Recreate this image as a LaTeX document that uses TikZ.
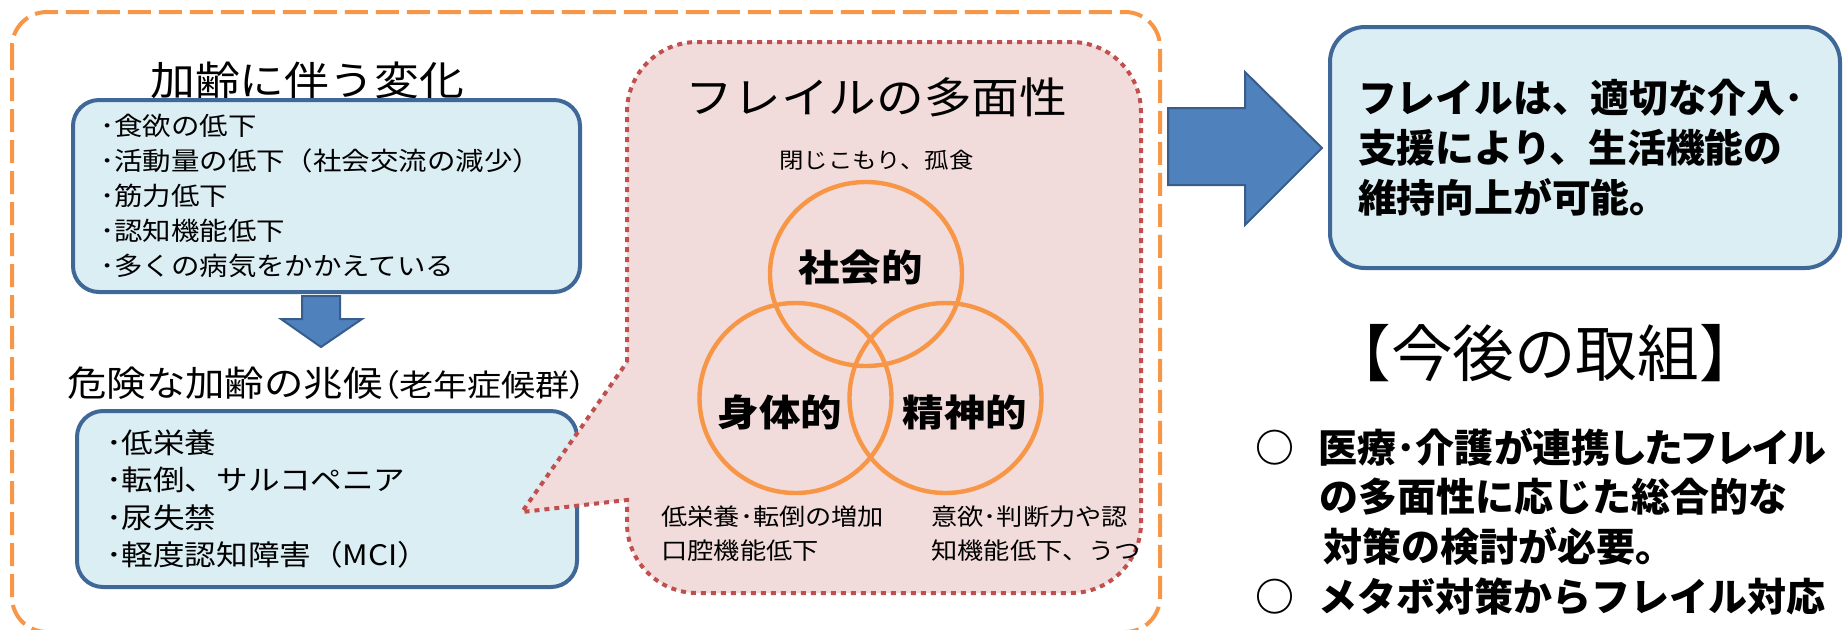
\documentclass[tikz,border=0pt]{standalone}
\usepackage{fontspec}
\setmainfont{Noto Sans CJK JP}[FakeStretch=1.12]
\newfontfamily\rfont{Noto Sans CJK JP}
\newfontfamily\rfontp{Noto Sans CJK JP}[RawFeature=+palt]
\newfontfamily\paltfont{Noto Sans CJK JP}[FakeStretch=1.12,RawFeature=+palt]
\definecolor{orangeline}{HTML}{F79646}
\definecolor{boxline}{HTML}{3F6797}
\definecolor{boxfill}{HTML}{DBEEF4}
\definecolor{pinkfill}{HTML}{F2DCDB}
\definecolor{pinkline}{HTML}{C0504D}
\definecolor{arrowfill}{HTML}{4F81BD}
\definecolor{arrowline}{HTML}{385D8A}
\tikzset{
  outerdash/.style={draw=orangeline, line width=2pt, dash pattern=on 11.5pt off 4pt, rounded corners=17.5pt},
  bluebox/.style={draw=boxline, fill=boxfill, line width=2pt, rounded corners=13pt, align=left, inner ysep=0pt},
  callout/.style={draw=pinkline, fill=pinkfill, line width=2pt, dash pattern=on 2.5pt off 2.5pt},
  ring/.style={draw=orangeline, line width=2.2pt},
  blockarrow/.style={fill=arrowfill, draw=arrowline, line width=1pt, line join=miter},
  plain/.style={inner sep=0pt, text=black}
}
\begin{document}
\begin{tikzpicture}[x=0.5pt,y=-0.5pt]
\useasboundingbox (0,0) rectangle (1843,629);
% outer dashed frame
\draw[outerdash] (12,12) rectangle (1160,632);

% left column
\node[plain, font=\fontsize{20}{24}\selectfont] (t1) at (307,80) {加齢に伴う変化};
\node[bluebox, minimum width=253.5pt, minimum height=96pt, text width=226.5pt, inner xsep=13.5pt,
      font=\fontsize{12.7}{17.6}\selectfont] (box1) at (326.5,196)
  {･食欲の低下\\･活動量の低下（社会交流の減少）\\･筋力低下\\･認知機能低下\\･多くの病気をかかえている};
\draw[blockarrow] (302,296) -- (340,296) -- (340,319) -- (362,319) -- (321,347) -- (281,319) -- (302,319) -- cycle;
\node[plain] (t2) at (327,383) {\fontsize{17.6}{22}\selectfont 危険な加齢の兆候{\paltfont\fontsize{15.2}{20}\selectfont（老年症候群）}};
\node[bluebox, minimum width=250pt, minimum height=88pt, text width=221pt, inner xsep=14.5pt,
      font=\fontsize{14.1}{18.75}\selectfont] (box2) at (327,499)
  {･低栄養\\･転倒、サルコペニア\\･尿失禁\\･軽度認知障害（MCI）};

% callout
\draw[callout] (627,362) -- (627,112) arc[start angle=180, end angle=270, radius=70]
  -- (1071,42) arc[start angle=270, end angle=360, radius=70]
  -- (1141,523) arc[start angle=0, end angle=90, radius=70]
  -- (697,593) arc[start angle=90, end angle=180, radius=70]
  -- (627,500) -- (522,512) -- cycle;
\node[plain, font=\fontsize{21.3}{26}\selectfont] (t3) at (876.5,97) {フレイルの多面性};
\node[plain, font=\fontsize{10.9}{14}\selectfont] (soc) at (876.5,160) {閉じこもり、孤食};
\draw[ring] (866,274) ellipse [x radius=96, y radius=92];
\draw[ring] (795.5,398) ellipse [x radius=96, y radius=95];
\draw[ring] (945.5,398) ellipse [x radius=96, y radius=95];
\node[plain, font=\bfseries\fontsize{18.5}{22}\selectfont] (l1) at (860.5,267) {社会的};
\node[plain, font=\bfseries\fontsize{18.5}{22}\selectfont] (l2) at (780,412) {身体的};
\node[plain, font=\bfseries\fontsize{18.5}{22}\selectfont] (l3) at (965,412) {精神的};
\node[plain, anchor=west, align=left, font=\fontsize{11.7}{17}\selectfont] (phys) at (661,534) {低栄養･転倒の増加\\口腔機能低下};
\node[plain, anchor=west, align=left, font=\fontsize{11.7}{17}\selectfont] (ment) at (931,534) {意欲･判断力や認\\知機能低下、うつ};

% right column
\draw[blockarrow] (1168,108) -- (1245,108) -- (1245,72) -- (1322,148) -- (1245,225) -- (1245,185) -- (1168,185) -- cycle;
\node[bluebox, minimum width=255pt, minimum height=120.5pt, text width=227pt, inner xsep=14pt,
      rounded corners=17.5pt, font=\rfont\bfseries\fontsize{19.4}{25}\selectfont] (box3) at (1585,147.5)
  {フレイルは、適切な介入･\\支援により、生活機能の\\維持向上が可能。};
\node[plain, font=\rfont\fontsize{30.8}{36}\selectfont] (t4) at (1545,353) {【今後の取組】};
\node[plain, anchor=west, align=left, font=\rfont\bfseries\fontsize{19.5}{24.8}\selectfont] (plan) at (1255,521.5)
  {{\rfontp ○\hspace{12pt}医療･介護が連携したフレイル}\\\hspace*{32pt}の多面性に応じた総合的な\\\hspace*{34pt}対策の検討が必要。\\○\hspace{12pt}メタボ対策からフレイル対応};
\end{tikzpicture}
\end{document}
